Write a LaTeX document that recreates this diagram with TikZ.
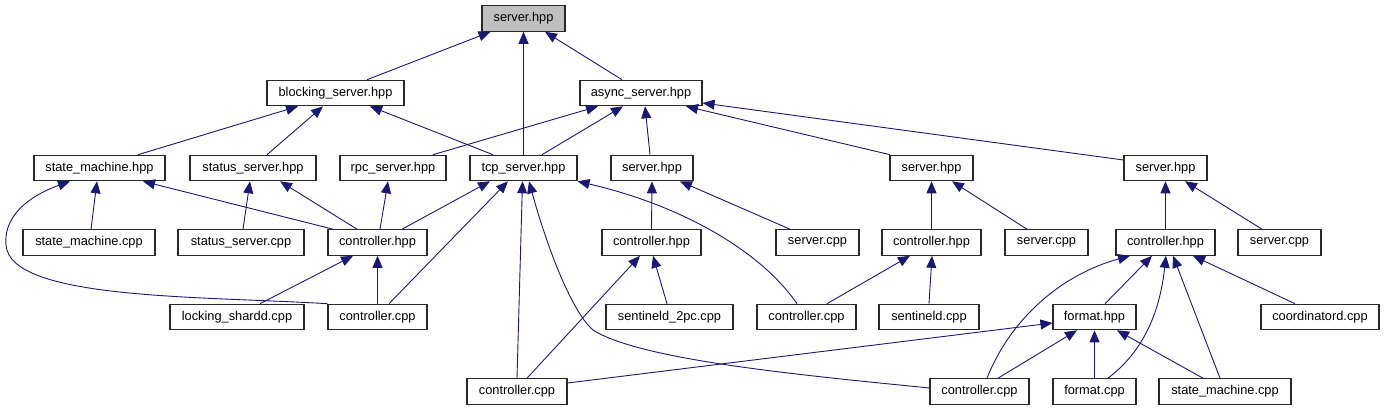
\documentclass[tikz,border=0pt]{standalone}
\usepackage{fontspec}
\setmainfont{Liberation Sans}
\usetikzlibrary{arrows.meta}
\definecolor{edgeblue}{RGB}{25,25,112}
\definecolor{boxline}{RGB}{40,40,40}
\definecolor{rootfill}{RGB}{191,191,191}
\begin{document}
\begin{tikzpicture}[x=1pt,y=-1pt,
  box/.style={draw=boxline,line width=1.1pt,inner sep=0pt,minimum height=25.5pt,
    font=\fontsize{12.8}{15}\selectfont,anchor=center},
  dep/.style={draw=edgeblue,line width=0.9pt,-{Triangle[length=12pt,width=10pt]}, fill=none}]
\useasboundingbox (0,0) rectangle (1384,411);
% row 0
\node[box,fill=rootfill,minimum width=83pt] (root) at (523.5,18.5) {server.hpp};
% row 1
\node[box,minimum width=137pt] (bs) at (335.5,93) {blocking\_server.hpp};
\node[box,minimum width=122pt] (as) at (641,93) {async\_server.hpp};
% row 2
\node[box,minimum width=131pt] (smh) at (99.5,168) {state\_machine.hpp};
\node[box,minimum width=126pt] (ssh) at (253,168) {status\_server.hpp};
\node[box,minimum width=106pt] (rpc) at (393,168) {rpc\_server.hpp};
\node[box,minimum width=107pt] (tcp) at (523.5,168) {tcp\_server.hpp};
\node[box,minimum width=82pt] (s2) at (652,168) {server.hpp};
\node[box,minimum width=83pt] (s3) at (931.5,168) {server.hpp};
\node[box,minimum width=83pt] (s4) at (1165.5,168) {server.hpp};
% row 3
\node[box,minimum width=132pt] (smc) at (89,242.5) {state\_machine.cpp};
\node[box,minimum width=126pt] (ssc) at (241,242.5) {status\_server.cpp};
\node[box,minimum width=99pt] (chA) at (377.5,242.5) {controller.hpp};
\node[box,minimum width=99pt] (chB) at (651.5,242.5) {controller.hpp};
\node[box,minimum width=83pt] (scB) at (817.5,242.5) {server.cpp};
\node[box,minimum width=99pt] (chC) at (931.5,242.5) {controller.hpp};
\node[box,minimum width=83pt] (scC) at (1046.5,242.5) {server.cpp};
\node[box,minimum width=99pt] (chD) at (1165.5,242.5) {controller.hpp};
\node[box,minimum width=83pt] (scD) at (1279.5,242.5) {server.cpp};
% row 4
\node[box,minimum width=134pt] (lsc) at (237,317) {locking\_shardd.cpp};
\node[box,minimum width=99pt] (ccA) at (377.5,317) {controller.cpp};
\node[box,minimum width=127pt] (s2pc) at (669.5,317) {sentineld\_2pc.cpp};
\node[box,minimum width=99pt] (ccB) at (806.5,317) {controller.cpp};
\node[box,minimum width=100pt] (sen) at (929,317) {sentineld.cpp};
\node[box,minimum width=83pt] (fh) at (1094.5,317) {format.hpp};
\node[box,minimum width=118pt] (coord) at (1320,317) {coordinatord.cpp};
% row 5
\node[box,minimum width=100pt] (ccE) at (517,391.5) {controller.cpp};
\node[box,minimum width=99pt] (ccF) at (979.5,391.5) {controller.cpp};
\node[box,minimum width=83pt] (fc) at (1094.5,391.5) {format.cpp};
\node[box,minimum width=132pt] (smc2) at (1225,391.5) {state\_machine.cpp};
% edges
\draw[dep] ([xshift=31.5pt]bs.north) -- ([xshift=-33pt]root.south);
\draw[dep] (tcp.north) -- (root.south);
\draw[dep] ([xshift=-19pt]as.north) -- ([xshift=21.5pt]root.south);
\draw[dep] ([xshift=38.5pt]smh.north) -- ([xshift=-37.5pt]bs.south);
\draw[dep] ([xshift=14pt]ssh.north) -- ([xshift=-12.5pt]bs.south);
\draw[dep] ([xshift=-30.5pt]tcp.north) -- ([xshift=34.5pt]bs.south);
\draw[dep] ([xshift=40pt]rpc.north) -- ([xshift=-43pt]as.south);
\draw[dep] ([xshift=18.5pt]tcp.north) -- ([xshift=-18pt]as.south);
\draw[dep] ([xshift=-2pt]s2.north) -- ([xshift=4pt]as.south);
\draw[dep] ([xshift=-41.5pt]s3.north) -- ([xshift=45pt]as.south);
\draw[dep] ([yshift=8pt]s4.west) -- ([yshift=-10pt]as.east);
\draw[dep] ([xshift=2pt]smc.north) -- ([xshift=-2.5pt]smh.south);
\draw[dep] ([xshift=-44.5pt]chA.north) -- ([xshift=43.5pt]smh.south);
\draw[dep] (ccA.north west) .. controls (200,296) and (10,300) .. (6,245)
  .. controls (3,210) and (40,192) .. ([xshift=-29.5pt]smh.south);
\draw[dep] ([xshift=2pt]ssc.north) -- ([xshift=-3pt]ssh.south);
\draw[dep] ([xshift=-20.5pt]chA.north) -- ([xshift=27pt]ssh.south);
\draw[dep] ([xshift=2.5pt]chA.north) -- ([xshift=-5pt]rpc.south);
\draw[dep] ([xshift=24.5pt]chA.north) -- ([xshift=-33.5pt]tcp.south);
\draw[dep] ([xshift=11.5pt]ccA.north) -- ([xshift=-15.5pt]tcp.south);
\draw[dep] (ccE.north) -- ([xshift=-1pt]tcp.south);
\draw[dep] ([yshift=3.5pt]ccF.west) .. controls (800,375) and (640,360) .. (593,330)
  .. controls (570,310) and (545,240) .. ([xshift=5.5pt]tcp.south);
\draw[dep] ([xshift=-9.5pt]ccB.north) .. controls (760,250) and (680,205) .. (tcp.south east);
\draw[dep] (chB.north) -- (s2.south);
\draw[dep] ([xshift=-27.5pt]scB.north) -- ([xshift=28pt]s2.south);
\draw[dep] (chC.north) -- (s3.south);
\draw[dep] ([xshift=-19.5pt]scC.north) -- ([xshift=20.5pt]s3.south);
\draw[dep] (chD.north) -- (s4.south);
\draw[dep] ([xshift=-17.5pt]scD.north) -- ([xshift=19.5pt]s4.south);
\draw[dep] ([xshift=23pt]lsc.north) -- ([xshift=-24.5pt]chA.south);
\draw[dep] (ccA.north) -- (chA.south);
\draw[dep] ([xshift=10pt]ccE.north) -- ([xshift=-11.5pt]chB.south);
\draw[dep] ([xshift=-2.5pt]s2pc.north) -- ([xshift=1.5pt]chB.south);
\draw[dep] ([xshift=20.5pt]ccB.north) -- ([xshift=-21.5pt]chC.south);
\draw[dep] (sen.north) -- ([xshift=0.5pt]chC.south);
\draw[dep] ([xshift=7.5pt]ccF.north) .. controls (1010,320) and (1060,275) .. ([xshift=-35.5pt]chD.south);
\draw[dep] ([xshift=10.5pt]fh.north) -- ([xshift=-13.5pt]chD.south);
\draw[dep] ([xshift=13.5pt]fc.north) .. controls (1145,350) and (1160,310) .. ([xshift=0.5pt]chD.south);
\draw[dep] ([xshift=-5pt]smc2.north) -- ([xshift=7.5pt]chD.south);
\draw[dep] ([xshift=-25pt]coord.north) -- ([xshift=27.5pt]chD.south);
\draw[dep] ([yshift=8.5pt]ccE.east) -- ([yshift=-6pt]fh.west);
\draw[dep] ([xshift=18.5pt]ccF.north) -- ([xshift=-17.5pt]fh.south);
\draw[dep] (fc.north) -- (fh.south);
\draw[dep] ([xshift=-22pt]smc2.north) -- ([xshift=22.5pt]fh.south);
\end{tikzpicture}
\end{document}
